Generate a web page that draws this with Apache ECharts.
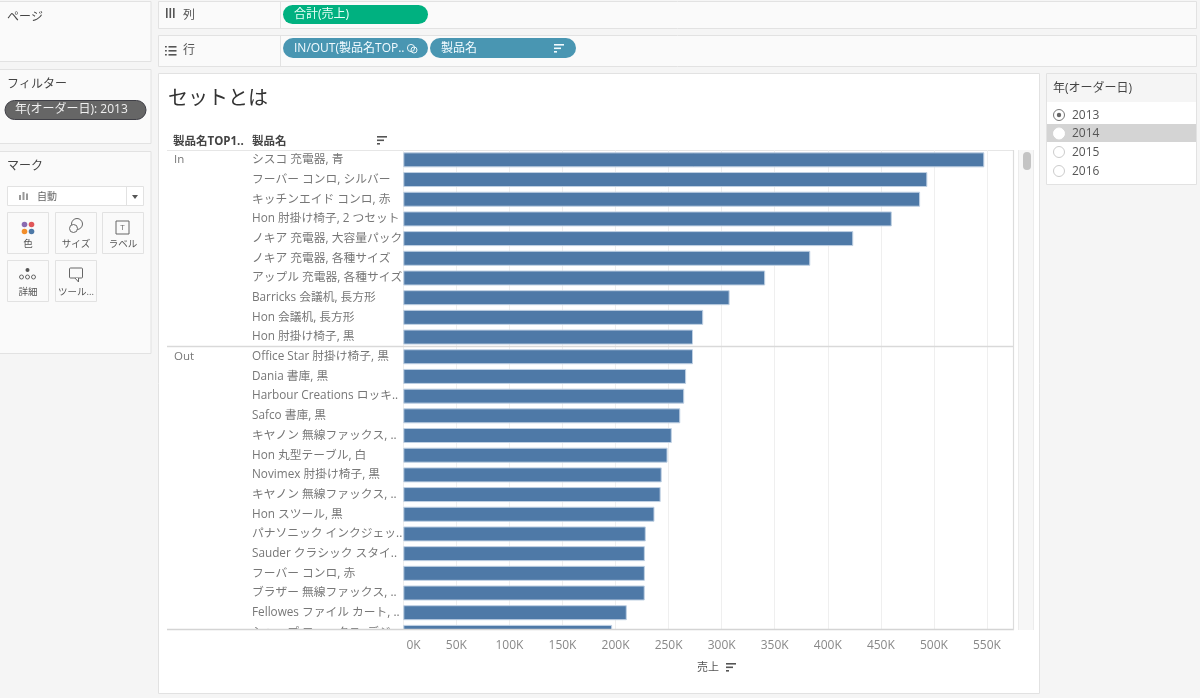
<!DOCTYPE html>
<html><head><meta charset="utf-8">
<style>html,body{margin:0;padding:0;background:#f5f5f5}#c{width:1200px;height:698px}</style>
<script src="https://cdn.jsdelivr.net/npm/echarts@6/dist/echarts.min.js"></script>
</head><body><div id="c"></div>
<script>
const categories = ['シスコ 充電器, 青','フーバー コンロ, シルバー','キッチンエイド コンロ, 赤','Hon 肘掛け椅子, 2 つセット','ノキア 充電器, 大容量パック','ノキア 充電器, 各種サイズ','アップル 充電器, 各種サイズ','Barricks 会議机, 長方形','Hon 会議机, 長方形','Hon 肘掛け椅子, 黒',
'Office Star 肘掛け椅子, 黒','Dania 書庫, 黒','Harbour Creations ロッキ..','Safco 書庫, 黒','キヤノン 無線ファックス, ..','Hon 丸型テーブル, 白','Novimex 肘掛け椅子, 黒','キヤノン 無線ファックス, ..','Hon スツール, 黒','パナソニック インクジェッ..','Sauder クラシック スタイ..','フーバー コンロ, 赤','ブラザー 無線ファックス, ..','Fellowes ファイル カート, ..','シャープ ファックス, デジ..'];
const sales = [547500,493800,487000,460300,424000,383500,341000,307500,282600,273000,
273000,266500,264700,261000,253000,249000,243500,242500,236700,228500,227600,227600,227500,210600,196800];
const axisTicks = ['0K','50K','100K','150K','200K','250K','300K','350K','400K','450K','500K','550K'];
const yearOptions = ['2013','2014','2015','2016'];

const FONT = '"Open Sans","Noto Sans CJK JP",sans-serif';
const g = [];
const rect=(x,y,w,h,fill,stroke,r,z)=>g.push({type:'rect',z:z||-10,silent:true,shape:{x,y,width:w,height:h,r:r||0},style:{fill:fill||'transparent',stroke:stroke||null,lineWidth:1}});
const text=(x,y,t,size,color,opt)=>g.push({type:'text',z:(opt&&opt.z)||-5,silent:true,x,y:y+1.5,style:Object.assign({text:t,font:(opt&&opt.weight||'normal')+' '+size+'px '+FONT,fill:color,verticalAlign:'middle',align:'left'},opt&&opt.align?{align:opt.align}:{})});
const line=(x1,y1,x2,y2,c,w,z)=>g.push({type:'line',z:z||-4,silent:true,shape:{x1,y1,x2,y2},style:{stroke:c,lineWidth:w||1}});
const circle=(x,y,r,fill,stroke,z)=>g.push({type:'circle',z:z||-4,silent:true,shape:{cx:x,cy:y,r},style:{fill:fill||'transparent',stroke:stroke||null,lineWidth:1}});
const sortIcon=(x,y,c)=>{rect(x,y,10,1.6,c,null,0,-3);rect(x,y+3.5,7,1.6,c,null,0,-3);rect(x,y+7,3,1.6,c,null,0,-3);};
const B='#e2e2e2', P='#fafafa';

// left panels
rect(-1,1.5,152,60,P,B);
text(7,16,'ページ',12,'#444');
rect(-1,69.5,152,74,P,B);
text(7,83,'フィルター',12,'#444');
rect(5,100.5,141,19,'#666666','#3f3f46',9.5);
text(15,108.5,'年(オーダー日): 2013',12,'#f0f0f0');
rect(-1,151.5,152,202,P,B);
text(7,165,'マーク',12,'#444');
rect(7.5,186.5,136,19,'#fff',B);
line(126.5,187,126.5,205,B);
text(37,195.5,'自動',10,'#666');
rect(19,195,2,5,'#999',null,0,-3);rect(22.5,192,2,8,'#999',null,0,-3);rect(26,193.5,2,6.5,'#999',null,0,-3);
g.push({type:'polygon',z:-3,silent:true,shape:{points:[[132,195],[138,195],[135,199]]},style:{fill:'#555'}});
[[7.5,212.5,'色'],[55.5,212.5,'サイズ'],[102.5,212.5,'ラベル'],[7.5,260.5,'詳細'],[55.5,260.5,'ツール...']].forEach(b=>{
  rect(b[0],b[1],41,41,'#fafafa',B);
  text(b[0]+20.5,b[1]+30.5,b[2],9.5,'#555',{align:'center'});
});
circle(24.5,224.5,2.8,'#8b6bb1');circle(31.5,224.5,2.8,'#e15759');circle(24.5,231.5,2.8,'#f28e2b');circle(31.5,231.5,2.8,'#4e79a7');
circle(77,224,5.5,null,'#666');circle(73.5,228.5,4,'#fafafa','#666');
rect(116,221,13,13,null,'#666');text(122.5,226,'T',8,'#666',{align:'center'});
circle(27.5,270,2,'#555');circle(21.5,277,2,null,'#666');circle(27.5,277,2,null,'#666');circle(33.5,277,2,null,'#666');
rect(69.5,268,13,10,null,'#666',1);
g.push({type:'polyline',z:-3,silent:true,shape:{points:[[75,278],[78.5,282],[78.5,278]]},style:{stroke:'#666',fill:'#fafafa',lineWidth:1}});

// shelves
rect(158.5,1.5,1038,27,P,B);
line(280.5,2,280.5,28,B);
rect(166,8,1.6,10,'#555',null,0,-3);rect(169.5,8,1.6,10,'#555',null,0,-3);rect(173,8,1.6,10,'#555',null,0,-3);
text(183,14,'列',12,'#555');
rect(283,5,145,19,'#00b180',null,9.5);
text(294,13,'合計(売上)',12,'#eafff8');
rect(158.5,35.5,1038,31,P,B);
line(280.5,36,280.5,66,B);
[46,50,54].forEach(y=>{rect(165,y,1.8,1.6,'#555',null,0,-3);rect(168.5,y,8,1.6,'#555',null,0,-3);});
text(183,49,'行',12,'#555');
rect(283,38,145,20,'#4996b2',null,10);
text(294,47,'IN/OUT(製品名TOP..',12,'#f2fbff');
circle(411,48,3.6,null,'#e8f4f8');circle(414,50,3,null,'#e8f4f8');
rect(430,38,146,20,'#4996b2',null,10);
text(441,47,'製品名',12,'#f2fbff');
sortIcon(554,44,'#f2fbff');

// main sheet
rect(158.5,73.5,881,620,'#fff',B);
text(168,97.5,'セットとは',20,'#333');
text(173,140,'製品名TOP1..',11.5,'#444',{weight:'bold'});
text(252,140,'製品名',11.5,'#444',{weight:'bold'});
sortIcon(377,136,'#555');
line(167,150.5,1014,150.5,'#e6e6e6',1,-4);
text(174,158.5,'In',11.5,'#777');
text(174,355,'Out',11.5,'#777');

// cover that clips the last, partly scrolled row, then frame on top
rect(160,630,875,13,'#fff',null,0,50);
line(167,346.5,1014,346.5,'#d9d9d9',1.4,60);
line(167,629.5,1014,629.5,'#d4d4d4',1.4,60);
line(1013.5,150,1013.5,630,'#dcdcdc',1.2,60);
rect(1019,150,15,480,'#f7f7f7',null,0,60);
line(1018.5,150,1018.5,630,'#ececec',1,60);
line(1033.5,150,1033.5,630,'#ececec',1,60);
rect(1023,152,8,18,'#c4c4c4',null,4,61);

text(697,666.5,'売上',11,'#555');
sortIcon(726,663,'#555');

// year panel
rect(1046.5,73.5,150,111,'#fff',B);
rect(1047,74,149,28,'#f5f5f5');
text(1053,87,'年(オーダー日)',12,'#444');
rect(1047,124,149,18,'#d4d4d4');
yearOptions.forEach((y,i)=>{
  const cy=[115,133.5,152,171][i];
  circle(1059,cy,5.5,'#fff',i===0?'#777':(i===1?'#fff':'#ccc'),-3);
  if(i===0) circle(1059,cy,2.2,'#666',null,-2);
  text(1072,cy-1,y,12,'#555');
});

const chart = echarts.init(document.getElementById('c'),null,{renderer:'canvas'});
const xScale={type:'value',min:0,max:575000,interval:50000};
chart.setOption({
  animation:false,
  backgroundColor:'#f5f5f5',
  grid:{left:403.3,top:150,width:610.2,height:492.25,containLabel:false},
  xAxis:[
    Object.assign({},xScale,{position:'bottom',axisLine:{show:false},axisTick:{show:false},axisLabel:{show:false},
      splitLine:{show:true,lineStyle:{color:'#efefef',width:1}}}),
    Object.assign({},xScale,{position:'bottom',z:200,axisLine:{show:false},axisTick:{show:false},splitLine:{show:false},
      axisLabel:{show:true,margin:-3,color:'#888',fontSize:12,fontFamily:FONT,showMaxLabel:false,hideOverlap:false,alignMinLabel:'left',
        formatter:(v)=>(v===0?' ':'')+(axisTicks[Math.round(v/50000)]||'')}})
  ],
  yAxis:{type:'category',inverse:true,data:categories,axisLine:{show:false},axisTick:{show:false},splitLine:{show:false},
    axisLabel:{margin:151.3,align:'left',color:'#777',fontSize:11.75,fontFamily:FONT,interval:0,padding:[2,0,0,0]}},
  series:[{type:'bar',data:sales,barWidth:15,xAxisIndex:0,itemStyle:{color:'#4e79a7',borderColor:'#bfd0e3',borderWidth:1},silent:true}],
  graphic:{elements:g}
});
</script></body></html>
